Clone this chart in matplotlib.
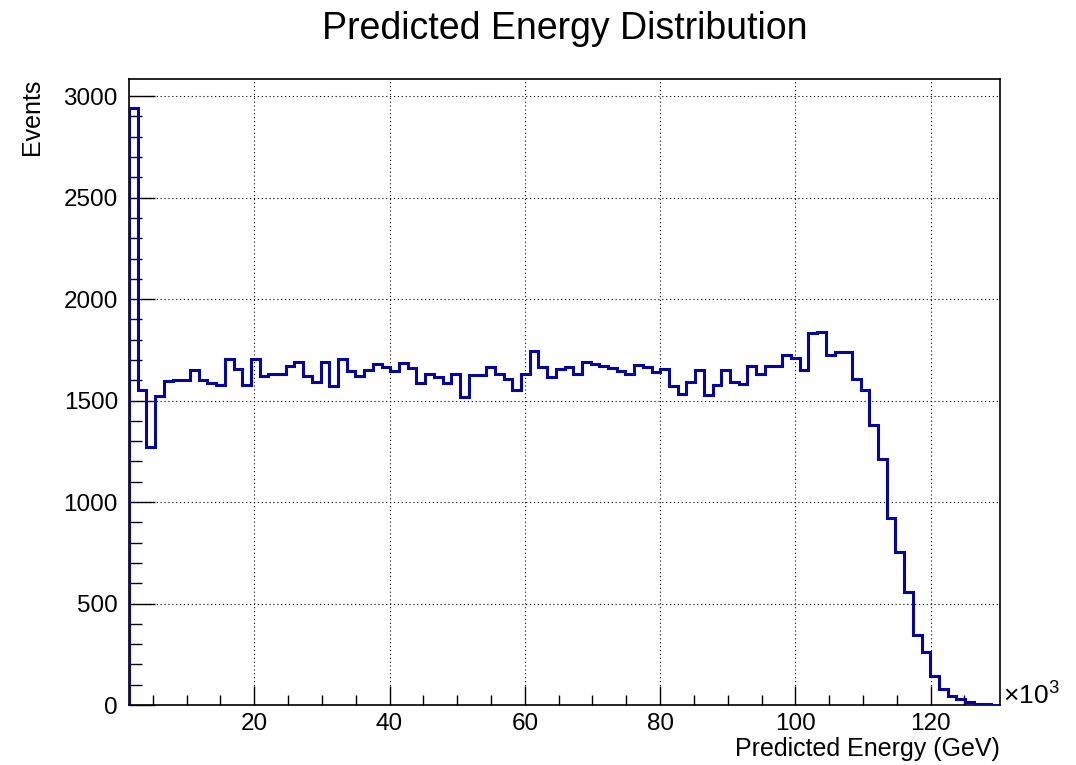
import matplotlib
matplotlib.use('Agg')
import matplotlib.pyplot as plt
import numpy as np

plt.rcParams['font.family'] = ['Liberation Sans', 'DejaVu Sans']
plt.rcParams['mathtext.fontset'] = 'custom'
plt.rcParams['mathtext.rm'] = 'Liberation Sans'

# Histogram range (x10^3 GeV), 100 bins
x_min = 1.48
x_max = 130.25
n_bins = 100

# Bin contents
counts = [
    2940, 1554, 1271, 1525, 1595, 1603, 1603, 1651, 1599, 1587,
    1579, 1705, 1656, 1577, 1703, 1623, 1631, 1631, 1669, 1690,
    1622, 1590, 1690, 1572, 1705, 1644, 1623, 1653, 1679, 1665,
    1644, 1686, 1660, 1589, 1631, 1617, 1589, 1633, 1520, 1625,
    1628, 1664, 1633, 1605, 1554, 1631, 1746, 1664, 1615, 1656,
    1664, 1631, 1692, 1681, 1671, 1661, 1648, 1631, 1677, 1664,
    1640, 1658, 1574, 1533, 1590, 1651, 1528, 1579, 1651, 1594,
    1582, 1672, 1631, 1672, 1672, 1726, 1710, 1651, 1833, 1840,
    1725, 1738, 1738, 1607, 1553, 1382, 1213, 923, 754, 557,
    344, 259, 143, 77, 44, 28, 16, 6, 3, 2,
]

x_ticks = [20, 40, 60, 80, 100, 120]
y_ticks = [0, 500, 1000, 1500, 2000, 2500, 3000]

edges = np.linspace(x_min, x_max, n_bins + 1)

fig = plt.figure(figsize=(10.76, 7.65), dpi=100)
ax = fig.add_axes([129 / 1076, 1 - 705 / 765, 871 / 1076, 626.5 / 765])

ax.stairs(counts, edges, color='#0505a5', linewidth=2.2, baseline=0, zorder=3)

ax.set_xlim(x_min, x_max)
ax.set_ylim(0, max(counts) * 1.05)

ax.set_xticks(x_ticks)
ax.set_xticks(np.arange(5, 130, 5), minor=True)
ax.set_yticks(y_ticks)
ax.set_yticks(np.arange(0, 3100, 100), minor=True)

ax.grid(True, which='major', color='black', linestyle=(0, (1, 2.5)), linewidth=0.8)
ax.tick_params(axis='x', which='major', direction='in', length=14, width=1,
               labelsize=17.5, pad=6, top=False)
ax.tick_params(axis='x', which='minor', direction='in', length=7, width=1, top=False)
ax.tick_params(axis='y', which='major', direction='in', length=19, width=1,
               labelsize=17.5, pad=8, right=False)
ax.tick_params(axis='y', which='minor', direction='in', length=9, width=1, right=False)
for sp in ax.spines.values():
    sp.set_linewidth(1.2)

ax.set_xlabel('Predicted Energy (GeV)', fontsize=18, loc='right', labelpad=1)
ax.set_ylabel('Events', fontsize=18, loc='top', labelpad=14)

ax.text(1.003, 0.003, r'$\times10^{3}$', transform=ax.transAxes,
        fontsize=19, ha='left', va='baseline')

fig.text(0.525, 0.962, 'Predicted Energy Distribution', fontsize=27,
         ha='center', va='center')

fig.savefig('out.png', dpi=100)
